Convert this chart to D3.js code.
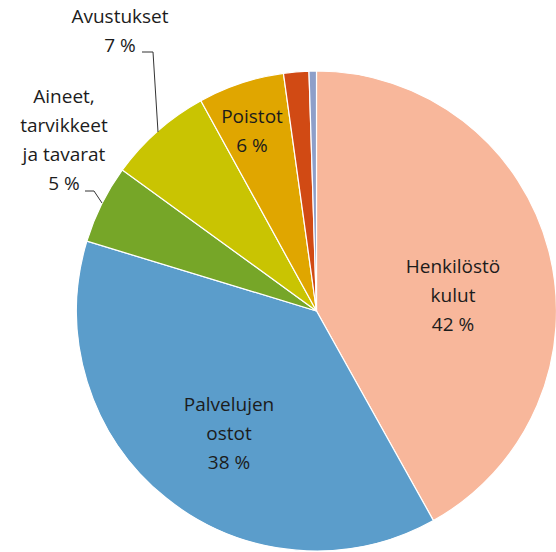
<!DOCTYPE html>
<html>
<head>
  <meta charset="utf-8">
  <script src="https://d3js.org/d3.v7.min.js"></script>
  <style>
    body { margin: 0; background: #fff; }
    svg text { font-family: "Open Sans", "DejaVu Sans", sans-serif; fill: #1c1c1c; }
  </style>
</head>
<body>
<script>
  // data, clockwise from 12 o'clock
  var categories = ["Henkilöstö kulut", "Palvelujen ostot", "Aineet, tarvikkeet ja tavarat",
                    "Avustukset", "Poistot", "Muut 1", "Muut 2"];
  var values = [41.9, 37.8, 5.3, 7.0, 5.8, 1.7, 0.5];
  var percentLabels = ["42 %", "38 %", "5 %", "7 %", "6 %", "", ""];
  var labelLines = [["Henkilöstö", "kulut"], ["Palvelujen", "ostot"],
                    ["Aineet,", "tarvikkeet", "ja tavarat"], ["Avustukset"], ["Poistot"], [], []];
  var colors = ["#F8B79B", "#5B9DCB", "#76A628", "#C9C402", "#E0A600", "#D14A14", "#8E9FC9"];

  // label layout (text block centre x, first baseline y) and leader lines
  var labelPos = [[453, 273], [229, 411], [64, 103], [120, 23], [252, 123], null, null];
  var leaders = [null, null, [[85, 191], [94, 191], [102, 203]],
                 [[142, 52], [153, 52], [158, 132]], null, null, null];

  var width = 556, height = 552;
  var cx = 316.5, cy = 311, radius = 240;
  var lineH = 29;

  var svg = d3.select("body").append("svg")
    .attr("width", width)
    .attr("height", height);

  var pie = d3.pie().sort(null).value(function(d) { return d; });
  var arc = d3.arc().innerRadius(0).outerRadius(radius);

  var g = svg.append("g").attr("transform", "translate(" + cx + "," + cy + ")");

  g.selectAll("path")
    .data(pie(values))
    .enter().append("path")
      .attr("d", arc)
      .attr("fill", function(d, i) { return colors[i]; })
      .attr("stroke", "#fff")
      .attr("stroke-width", 1.2);

  // leader lines
  var line = d3.line();
  leaders.forEach(function(pts) {
    if (!pts) return;
    svg.append("path")
      .attr("d", line(pts))
      .attr("fill", "none")
      .attr("stroke", "#333")
      .attr("stroke-width", 1);
  });

  // labels
  categories.forEach(function(c, i) {
    if (!labelPos[i]) return;
    var lines = labelLines[i].concat([percentLabels[i]]);
    var t = svg.append("text")
      .attr("text-anchor", "middle")
      .style("font-size", "19px");
    lines.forEach(function(s, k) {
      t.append("tspan")
        .attr("x", labelPos[i][0])
        .attr("y", labelPos[i][1] + k * lineH)
        .text(s);
    });
  });
</script>
</body>
</html>
